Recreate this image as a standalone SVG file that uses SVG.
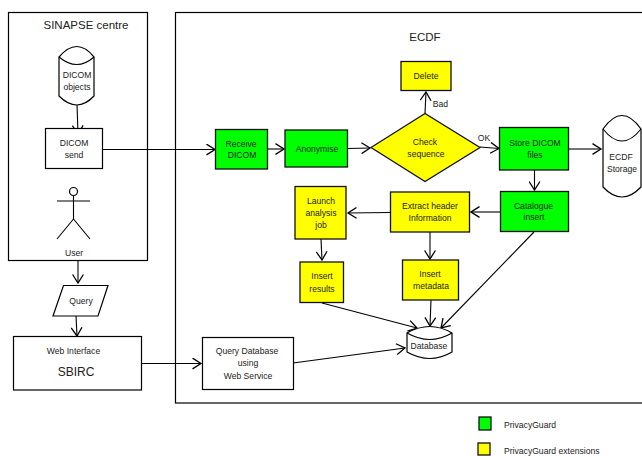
<svg xmlns="http://www.w3.org/2000/svg" width="642" height="456" viewBox="0 0 642 456">
<defs>
<marker id="a" viewBox="0 0 12 12" refX="10.500" refY="6" markerWidth="12" markerHeight="12" markerUnits="userSpaceOnUse" orient="auto"><path d="M2 .6L10.500 6L2 11.400" fill="none" stroke="#000" stroke-width="1.300"/></marker>
</defs>
<style>
text{font-family:"Liberation Sans",Arial,sans-serif;font-size:8.600px;text-anchor:middle;fill:#222}
.s{stroke:#000;stroke-width:1.200;fill:#fff}
.g{stroke:#111;stroke-width:1.300;fill:#0f0}
.y{stroke:#111;stroke-width:1.300;fill:#ff0}
.n{fill:none;stroke:#000;stroke-width:1.100}
.c line{fill:none;stroke:#000;stroke-width:1.100;marker-end:url(#a)}
.l{font-size:11.500px}
.t{text-anchor:start;font-size:8.600px}
</style>
<rect width="642" height="456" fill="#fff"/>
<g id="sinapse-centre"><rect class="s" x="8.500" y="12.500" width="139" height="248"/><text class="l" x="86" y="29">SINAPSE centre</text></g>
<g id="ecdf"><rect class="s" x="175.500" y="12.500" width="470" height="390.500"/><text class="l" x="425" y="41">ECDF</text></g>
<g class="c" id="connectors">
<line x1="77" y1="104" x2="78" y2="134"/>
<line x1="102" y1="149.500" x2="215" y2="149.500"/>
<line x1="78" y1="261" x2="78" y2="283"/>
<line x1="76" y1="316" x2="77" y2="336"/>
<line x1="141" y1="363.500" x2="201" y2="363.500"/>
<line x1="268" y1="149" x2="284" y2="149"/>
<line x1="348" y1="148.500" x2="370" y2="148"/>
<line x1="425" y1="113" x2="426" y2="92"/>
<line x1="480" y1="147" x2="499" y2="148.500"/>
<line x1="569" y1="149" x2="601" y2="149"/>
<line x1="534.500" y1="170" x2="534.500" y2="190"/>
<line x1="500" y1="212" x2="471" y2="212"/>
<line x1="390" y1="212.500" x2="348" y2="213"/>
<line x1="430" y1="232" x2="430" y2="259"/>
<line x1="321" y1="239" x2="322" y2="260"/>
<line x1="322" y1="303" x2="417" y2="328"/>
<line x1="431" y1="300" x2="430" y2="326"/>
<line x1="534" y1="232" x2="441" y2="328"/>
<line x1="293" y1="363" x2="405" y2="348"/>
</g>
<g id="dicom-objects"><path class="s" d="M59 57Q77 36 94 57V96Q77 114 59 96Z"/><path class="n" d="M59 57Q77 72 94 57"/><text x="77" y="78">DICOM</text><text x="77" y="90">objects</text></g>
<g id="dicom-send"><rect class="s" x="45.500" y="128.500" width="57" height="40"/><text x="74" y="146">DICOM</text><text x="74" y="158">send</text></g>
<g id="user"><circle class="s" cx="73.500" cy="191.500" r="4"/><path class="n" d="M73.500 196V219M57 201H90M57 239L73.500 219L90 239"/><text x="74" y="256">User</text></g>
<g id="query"><path class="s" d="M63.500 285.500H108L98 316H53Z"/><text x="81" y="304">Query</text></g>
<g id="web-interface"><rect class="s" x="13.500" y="336.500" width="128" height="53.500"/><text x="73.500" y="354">Web Interface</text><text x="76" y="376" style="font-size:12px">SBIRC</text></g>
<g id="receive-dicom"><rect class="g" x="215.500" y="129.500" width="52" height="39.500"/><text x="241" y="147">Receive</text><text x="242" y="158">DICOM</text></g>
<g id="anonymise"><rect class="g" x="285" y="130" width="62.500" height="37"/><text x="317" y="152">Anonymise</text></g>
<g id="check-sequence"><path class="y" d="M371 147.500L425 113.500L480 147.500L425 181.500Z"/><text x="425" y="145">Check</text><text x="426" y="157">sequence</text></g>
<g id="delete"><rect class="y" x="401" y="61.500" width="50" height="29"/><text x="426" y="79">Delete</text></g>
<text x="440.500" y="107">Bad</text>
<text x="484" y="141">OK</text>
<g id="store-dicom"><rect class="g" x="499.500" y="127.500" width="69" height="42.500"/><text x="535" y="146">Store DICOM</text><text x="535" y="158">files</text></g>
<g id="ecdf-storage"><path class="s" d="M603 129Q622 102 641 129V187Q622 207 603 187Z"/><path class="n" d="M603 129Q622 153 641 129"/><text x="621" y="160">ECDF</text><text x="622" y="172">Storage</text></g>
<g id="catalogue-insert"><rect class="g" x="500.500" y="191.500" width="68" height="40"/><text x="533.500" y="209">Catalogue</text><text x="534" y="220">insert</text></g>
<g id="extract-header"><rect class="y" x="390.500" y="192" width="79" height="40"/><text x="430" y="209">Extract header</text><text x="430" y="221">Information</text></g>
<g id="launch-analysis"><rect class="y" x="295" y="186.500" width="51" height="52.500"/><text x="321" y="204">Launch</text><text x="321" y="216">analysis</text><text x="321" y="228">job</text></g>
<g id="insert-results"><rect class="y" x="300" y="262" width="43.500" height="40.500"/><text x="322" y="279">Insert</text><text x="322" y="292">results</text></g>
<g id="insert-metadata"><rect class="y" x="402.500" y="260" width="56" height="40"/><text x="430" y="277">Insert</text><text x="431" y="289">metadata</text></g>
<g id="database"><path class="s" d="M407 333Q430 320 452 333V352Q430 365 407 352Z"/><path class="n" d="M407 333Q430 346 452 333"/><text x="429" y="349">Database</text></g>
<g id="query-database"><rect class="s" x="202.500" y="337.500" width="91" height="52"/><text x="247" y="354">Query Database</text><text x="248" y="366">using</text><text x="248" y="379">Web Service</text></g>
<g id="legend">
<rect class="g" x="479" y="417" width="12" height="13"/><text class="t" x="504" y="428">PrivacyGuard</text>
<rect class="y" x="478" y="443" width="12" height="12"/><text class="t" x="504" y="454">PrivacyGuard extensions</text>
</g>
</svg>
